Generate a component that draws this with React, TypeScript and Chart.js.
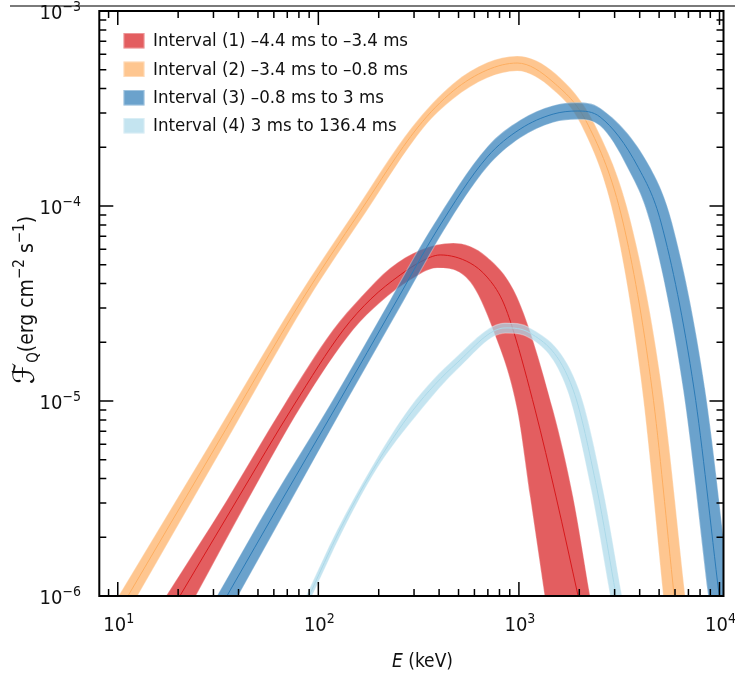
import React, { useEffect, useRef } from 'react';
import { Chart, registerables } from 'chart.js';

Chart.register(...registerables);

// ---------- axes ----------
const X_MIN = 8.09;
const X_MAX = 10470;
const Y_MIN = 1e-6;
const Y_MAX = 1e-3;
const X_MAJOR = [10, 100, 1000, 10000];
const X_MAJOR_EXP = ['1', '2', '3', '4'];
const Y_MAJOR = [1e-6, 1e-5, 1e-4, 1e-3];
const Y_MAJOR_EXP = ['\u22126', '\u22125', '\u22124', '\u22123'];
const MINOR_MULT = [2, 3, 4, 5, 6, 7, 8, 9];
const X_DECADES = [1, 10, 100, 1000];
const Y_DECADES = [1e-6, 1e-5, 1e-4];

// ---------- legend ----------
const LABELS = [
  'Interval (1) \u20134.4 ms to \u20133.4 ms',
  'Interval (2) \u20133.4 ms to \u20130.8 ms',
  'Interval (3) \u20130.8 ms to 3 ms',
  'Interval (4) 3 ms to 136.4 ms',
];
const COLORS = ['215,25,28', '253,174,97', '44,123,182', '171,217,233'];

// ---------- Interval (1) ----------
const INT1_MID_E = [20.4, 39.3, 75.6, 133, 183, 256, 322, 405, 571, 694, 825, 936, 1205, 1532, 1973];
const INT1_MID_F = [1e-6, 3.11e-6, 9.54e-6, 2.31e-5, 3.34e-5, 4.43e-5, 5.16e-5, 5.61e-5, 5.1e-5, 4.32e-5, 3.3e-5, 2.31e-5, 8.99e-6, 3.22e-6, 1e-6];
const INT1_HI_E = [17.4, 35.0, 67.4, 118, 163, 228, 322, 470, 694, 980, 1481, 1864, 2265];
const INT1_HI_F = [1e-6, 3.11e-6, 9.54e-6, 2.31e-5, 3.41e-5, 4.81e-5, 5.95e-5, 6.46e-5, 5.48e-5, 3.41e-5, 8.99e-6, 3.22e-6, 1e-6];
const INT1_LO_E = [24.5, 44.6, 82.9, 149, 205, 287, 391, 571, 743, 980, 1137, 1343];
const INT1_LO_F = [1e-6, 3.11e-6, 9.54e-6, 2.31e-5, 3.22e-5, 4.17e-5, 4.81e-5, 4.08e-5, 2.31e-5, 8.99e-6, 3.22e-6, 1e-6];

// ---------- Interval (2) ----------
const INT2_MID_E = [11.24, 30.5, 82.9, 161, 314, 470, 694, 980, 1481, 2214, 3309, 4616, 5944];
const INT2_MID_F = [1e-6, 5.74e-6, 3.3e-5, 9.32e-5, 2.54e-4, 3.89e-4, 4.98e-4, 5.41e-4, 4.32e-4, 2.6e-4, 8.18e-5, 1.14e-5, 1e-6];
const INT2_HI_E = [10.08, 28.0, 77.4, 151, 293, 470, 694, 980, 1532, 2399, 3627, 5178, 6743];
const INT2_HI_F = [1e-6, 5.74e-6, 3.3e-5, 9.32e-5, 2.54e-4, 4.25e-4, 5.44e-4, 5.88e-4, 4.75e-4, 2.6e-4, 8.18e-5, 1.14e-5, 1e-6];
const INT2_LO_E = [12.54, 33.3, 88.8, 173, 337, 470, 694, 980, 1481, 2043, 3019, 4116, 5238];
const INT2_LO_F = [1e-6, 5.74e-6, 3.3e-5, 9.32e-5, 2.54e-4, 3.54e-4, 4.53e-4, 4.92e-4, 3.94e-4, 2.6e-4, 8.18e-5, 1.14e-5, 1e-6];

// ---------- Interval (3) ----------
const INT3_MID_E = [35.0, 65.9, 124, 247, 391, 694, 1014, 1481, 1951, 2541, 3931, 5119, 7477, 9966];
const INT3_MID_F = [1e-6, 3.11e-6, 9.54e-6, 3.3e-5, 7.53e-5, 1.78e-4, 2.48e-4, 2.96e-4, 3.07e-4, 2.86e-4, 1.58e-4, 8.18e-5, 1.14e-5, 1e-6];
const INT3_HI_E = [31.2, 58.7, 114, 228, 361, 694, 1014, 1481, 1951, 2541, 4511, 5809, 8486, 11310];
const INT3_HI_F = [1e-6, 3.11e-6, 9.54e-6, 3.3e-5, 7.53e-5, 2.01e-4, 2.76e-4, 3.28e-4, 3.39e-4, 3.18e-4, 1.58e-4, 8.18e-5, 1.14e-5, 1e-6];
const INT3_LO_E = [39.8, 73.5, 135, 268, 424, 694, 1014, 1481, 1951, 2541, 3465, 4511, 6592, 8783];
const INT3_LO_F = [1e-6, 3.11e-6, 9.54e-6, 3.3e-5, 7.53e-5, 1.58e-4, 2.23e-4, 2.68e-4, 2.78e-4, 2.57e-4, 1.58e-4, 8.18e-5, 1.14e-5, 1e-6];

// ---------- Interval (4) ----------
const INT4_MID_E = [89.9, 128, 187, 297, 492, 854, 1137, 1864, 2455, 3053];
const INT4_MID_F = [1e-6, 2.18e-6, 4.43e-6, 8.99e-6, 1.57e-5, 2.37e-5, 2.23e-5, 1.14e-5, 3.5e-6, 1e-6];
const INT4_HI_E = [86.8, 124, 181, 287, 481, 854, 1137, 1996, 2630, 3264];
const INT4_HI_F = [1e-6, 2.18e-6, 4.43e-6, 9.32e-6, 1.66e-5, 2.51e-5, 2.37e-5, 1.14e-5, 3.5e-6, 1e-6];
const INT4_LO_E = [93.0, 133, 194, 316, 503, 854, 1137, 1739, 2292, 2853];
const INT4_LO_F = [1e-6, 2.18e-6, 4.43e-6, 8.68e-6, 1.48e-5, 2.23e-5, 2.1e-5, 1.14e-5, 3.5e-6, 1e-6];

const SERIES = [
  { midE: INT1_MID_E, midF: INT1_MID_F, hiE: INT1_HI_E, hiF: INT1_HI_F, loE: INT1_LO_E, loF: INT1_LO_F },
  { midE: INT2_MID_E, midF: INT2_MID_F, hiE: INT2_HI_E, hiF: INT2_HI_F, loE: INT2_LO_E, loF: INT2_LO_F },
  { midE: INT3_MID_E, midF: INT3_MID_F, hiE: INT3_HI_E, hiF: INT3_HI_F, loE: INT3_LO_E, loF: INT3_LO_F },
  { midE: INT4_MID_E, midF: INT4_MID_F, hiE: INT4_HI_E, hiF: INT4_HI_F, loE: INT4_LO_E, loF: INT4_LO_F },
];

const FONT = '"DejaVu Sans Condensed", "DejaVu Sans", sans-serif';

const pts = (es: number[], fs: number[]) => es.map((e, i) => ({ x: e, y: fs[i] }));

function buildDatasets() {
  const ds: any[] = [];
  SERIES.forEach((s, i) => {
    const c = COLORS[i];
    const base = ds.length;
    const edge = {
      fill: false,
      borderColor: 'rgba(255,255,255,0.3)',
      borderWidth: 1.2,
      cubicInterpolationMode: 'monotone',
      pointRadius: 0,
    };
    ds.push({ ...edge, label: LABELS[i] + ' upper', data: pts(s.hiE, s.hiF), order: 40 - 3 * i, bandLo: base + 1, bandColor: `rgba(${c},0.7)` });
    ds.push({ ...edge, label: LABELS[i] + ' lower', data: pts(s.loE, s.loF), order: 39 - 3 * i });
    ds.push({
      label: LABELS[i],
      data: pts(s.midE, s.midF),
      fill: false,
      borderColor: `rgb(${c})`,
      borderWidth: 1,
      cubicInterpolationMode: 'monotone',
      pointRadius: 0,
      order: 38 - 3 * i,
    });
  });
  return ds;
}

// fill between the upper and lower curves of a band, using the curves Chart.js computed
const bandPlugin = {
  id: 'bandFill',
  beforeDatasetDraw(chart: any, args: any) {
    const ds = chart.data.datasets[args.index];
    if (ds.bandLo === undefined) return;
    const hiLine = args.meta.dataset;
    const loLine = chart.getDatasetMeta(ds.bandLo).dataset;
    const area = chart.chartArea;
    hiLine.updateControlPoints(area, 'x');
    loLine.updateControlPoints(area, 'x');
    const hp = args.meta.data;
    const lp = chart.getDatasetMeta(ds.bandLo).data;
    const ctx = chart.ctx;
    ctx.save();
    ctx.beginPath();
    ctx.rect(area.left, area.top, area.right - area.left, area.bottom - area.top);
    ctx.clip();
    ctx.beginPath();
    ctx.moveTo(hp[0].x, hp[0].y);
    for (let k = 1; k < hp.length; k++) {
      const p = hp[k - 1];
      const q = hp[k];
      ctx.bezierCurveTo(p.cp2x, p.cp2y, q.cp1x, q.cp1y, q.x, q.y);
    }
    ctx.lineTo(lp[lp.length - 1].x, lp[lp.length - 1].y);
    for (let k = lp.length - 1; k > 0; k--) {
      const q = lp[k];
      const p = lp[k - 1];
      ctx.bezierCurveTo(q.cp1x, q.cp1y, p.cp2x, p.cp2y, p.x, p.y);
    }
    ctx.closePath();
    ctx.fillStyle = ds.bandColor;
    ctx.fill();
    ctx.restore();
  },
};

function drawPow(ctx: CanvasRenderingContext2D, x: number, baseY: number, exp: string, align: 'center' | 'right') {
  const baseFont = `20px ${FONT}`;
  const expFont = `14px ${FONT}`;
  ctx.font = baseFont;
  const bw = ctx.measureText('10').width;
  ctx.font = expFont;
  const ew = ctx.measureText(exp).width;
  const total = bw + ew;
  const x0 = align === 'center' ? x - total / 2 : x - total;
  ctx.textAlign = 'left';
  ctx.textBaseline = 'alphabetic';
  ctx.font = baseFont;
  ctx.fillText('10', x0, baseY);
  ctx.font = expFont;
  ctx.fillText(exp, x0 + bw, baseY - 8);
}

const decorPlugin = {
  id: 'decor',
  afterDraw(chart: any) {
    const { ctx, chartArea: a, scales } = chart;
    const xs = scales.x;
    const ys = scales.y;
    ctx.save();
    // stray top rule
    ctx.strokeStyle = '#7a7a7a';
    ctx.lineWidth = 2;
    ctx.beginPath();
    ctx.moveTo(10, 6);
    ctx.lineTo(735, 6);
    ctx.stroke();

    // frame
    ctx.strokeStyle = '#000';
    ctx.lineWidth = 2;
    ctx.strokeRect(a.left, a.top, a.right - a.left, a.bottom - a.top);

    // ticks
    ctx.lineWidth = 1.5;
    const xMinor: number[] = [];
    X_DECADES.forEach((d) => MINOR_MULT.forEach((m) => xMinor.push(d * m)));
    const yMinor: number[] = [];
    Y_DECADES.forEach((d) => MINOR_MULT.forEach((m) => yMinor.push(d * m)));
    const drawX = (v: number, len: number) => {
      if (v < X_MIN || v > X_MAX) return;
      const px = xs.getPixelForValue(v);
      ctx.beginPath();
      ctx.moveTo(px, a.bottom);
      ctx.lineTo(px, a.bottom - len);
      ctx.moveTo(px, a.top);
      ctx.lineTo(px, a.top + len);
      ctx.stroke();
    };
    const drawY = (v: number, len: number) => {
      const py = ys.getPixelForValue(v);
      ctx.beginPath();
      ctx.moveTo(a.left, py);
      ctx.lineTo(a.left + len, py);
      ctx.moveTo(a.right, py);
      ctx.lineTo(a.right - len, py);
      ctx.stroke();
    };
    xMinor.forEach((v) => drawX(v, 7));
    X_MAJOR.forEach((v) => drawX(v, 14));
    yMinor.forEach((v) => drawY(v, 7));
    Y_MAJOR.forEach((v) => drawY(v, 14));

    // tick labels
    ctx.fillStyle = '#111';
    X_MAJOR.forEach((v, i) => drawPow(ctx, xs.getPixelForValue(v) + 1, 631, X_MAJOR_EXP[i], 'center'));
    Y_MAJOR.forEach((v, i) => drawPow(ctx, 81, ys.getPixelForValue(v) + 7.5, Y_MAJOR_EXP[i], 'right'));

    // x title
    ctx.textAlign = 'left';
    ctx.font = `italic 19px ${FONT}`;
    ctx.fillText('E', 392, 667);
    const ew = ctx.measureText('E').width;
    ctx.font = `19px ${FONT}`;
    ctx.fillText(' (keV)', 392 + ew, 667);

    // y title
    const parts = [
      { t: '\u2131', s: 30, dy: 1 },
      { t: 'Q', s: 15, dy: 5 },
      { t: '(erg cm', s: 21, dy: 0 },
      { t: '\u22122', s: 15, dy: -9 },
      { t: ' s', s: 21, dy: 0 },
      { t: '\u22121', s: 15, dy: -9 },
      { t: ')', s: 21, dy: 0 },
    ];
    let total = 0;
    parts.forEach((p) => {
      ctx.font = `${p.s}px ${FONT}`;
      total += ctx.measureText(p.t).width;
    });
    ctx.save();
    ctx.translate(33, 300);
    ctx.rotate(-Math.PI / 2);
    let cx = -total / 2;
    parts.forEach((p) => {
      ctx.font = `${p.s}px ${FONT}`;
      ctx.fillText(p.t, cx, p.dy);
      cx += ctx.measureText(p.t).width;
    });
    ctx.restore();

    // legend
    const rows = [40.5, 69, 97.5, 125.5];
    LABELS.forEach((lab, i) => {
      const cy = rows[i];
      ctx.fillStyle = `rgba(${COLORS[i]},0.7)`;
      ctx.fillRect(123.5, cy - 7.5, 21, 15.5);
      ctx.strokeStyle = 'rgba(255,255,255,0.35)';
      ctx.lineWidth = 1;
      ctx.strokeRect(124, cy - 7, 20, 14.5);
      ctx.fillStyle = '#111';
      ctx.font = `18.5px ${FONT}`;
      ctx.textAlign = 'left';
      ctx.textBaseline = 'middle';
      ctx.fillText(lab, 153, cy + 1);
    });
    ctx.restore();
  },
};

export default function App() {
  const ref = useRef<HTMLCanvasElement>(null);
  useEffect(() => {
    const chart = new Chart(ref.current as HTMLCanvasElement, {
      type: 'line',
      data: { datasets: buildDatasets() },
      options: {
        responsive: false,
        animation: false,
        devicePixelRatio: 1,
        events: [],
        layout: { padding: { left: 99.3, right: 11.5, top: 11, bottom: 83 } },
        plugins: { legend: { display: false }, tooltip: { enabled: false } },
        scales: {
          x: { type: 'logarithmic', min: X_MIN, max: X_MAX, display: false },
          y: { type: 'logarithmic', min: Y_MIN, max: Y_MAX, display: false },
        },
      },
      plugins: [bandPlugin, decorPlugin],
    } as any);
    return () => chart.destroy();
  }, []);
  return (
    <div style={{ position: 'fixed', left: 0, top: 0, width: 735, height: 679, background: '#fff' }}>
      <canvas ref={ref} width={735} height={679} style={{ display: 'block', width: 735, height: 679 }} />
    </div>
  );
}
